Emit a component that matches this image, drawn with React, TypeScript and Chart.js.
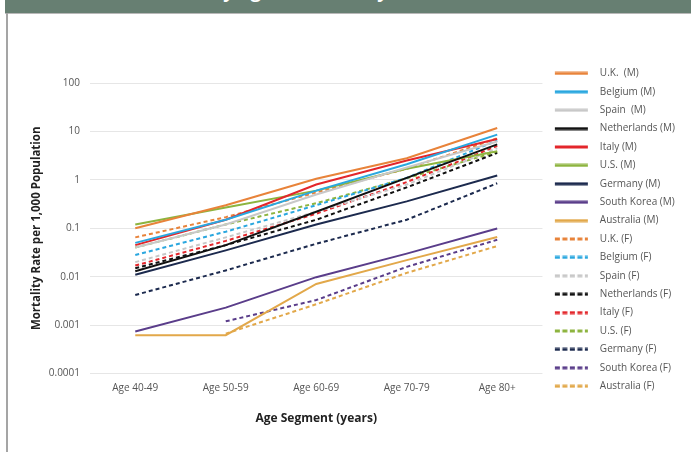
import React, { useEffect, useRef } from 'react';
import { Chart, registerables } from 'chart.js';

Chart.register(...registerables);

const FONT = "'Open Sans', 'DejaVu Sans', sans-serif";

const categories = ['Age 40-49', 'Age 50-59', 'Age 60-69', 'Age 70-79', 'Age 80+'];

// Male series
const ukM = [0.1, 0.3, 1.05, 2.8, 11.8];
const belgiumM = [0.05, 0.15, 0.6, 2.1, 8.6];
const spainM = [0.04, 0.12, 0.5, 1.8, 6.2];
const netherlandsM = [0.013, 0.045, 0.22, 1.1, 5.4];
const italyM = [0.045, 0.15, 0.8, 2.5, 7.0];
const usM = [0.12, 0.27, 0.6, 1.7, 3.9];
const germanyM = [0.011, 0.035, 0.12, 0.36, 1.23];
const southKoreaM = [0.00074, 0.0023, 0.0098, 0.03, 0.099];
const australiaM = [0.00062, 0.00062, 0.0071, 0.022, 0.066];

// Female series
const ukF = [0.065, 0.17, 0.55, 1.7, 7.2];
const belgiumF = [0.028, 0.085, 0.3, 1.1, 6.5];
const spainF = [0.02, 0.065, 0.22, 0.8, 4.5];
const netherlandsF = [0.015, 0.045, 0.15, 0.7, 3.6];
const italyF = [0.017, 0.055, 0.2, 0.9, 5.0];
const usF = [0.04, 0.12, 0.33, 1.08, 3.8];
const germanyF = [0.0042, 0.0135, 0.048, 0.15, 0.85];
const southKoreaF = [null, 0.0012, 0.0033, 0.016, 0.058];
const australiaF = [null, 0.00067, 0.0027, 0.012, 0.043];

const yTickValues = [0.0001, 0.001, 0.01, 0.1, 1, 10, 100];
const yTickLabels = ['0.0001', '0.001', '0.01', '0.1', '1', '10', '100'];

const seriesLabels = [
  'U.K.  (M)', 'Belgium (M)', 'Spain  (M)', 'Netherlands (M)', 'Italy (M)', 'U.S. (M)',
  'Germany (M)', 'South Korea (M)', 'Australia (M)',
  'U.K. (F)', 'Belgium (F)', 'Spain (F)', 'Netherlands (F)', 'Italy (F)', 'U.S. (F)',
  'Germany (F)', 'South Korea (F)', 'Australia (F)',
];
const seriesValues = [
  ukM, belgiumM, spainM, netherlandsM, italyM, usM, germanyM, southKoreaM, australiaM,
  ukF, belgiumF, spainF, netherlandsF, italyF, usF, germanyF, southKoreaF, australiaF,
];
const countryColors = ['#E8833A', '#2AA7DF', '#C8C8C8', '#111111', '#E3262B', '#8DB43F', '#1C2A4E', '#5A3D8A', '#E2A84A'];

function makeSample(color: string, dashed: boolean) {
  const c = document.createElement('canvas');
  c.width = 44;
  c.height = 4;
  const ctx = c.getContext('2d')!;
  ctx.strokeStyle = color;
  ctx.lineWidth = 3;
  if (dashed) ctx.setLineDash([5, 2.5]);
  ctx.beginPath();
  ctx.moveTo(4, 2);
  ctx.lineTo(37, 2);
  ctx.stroke();
  return c;
}

export default function App() {
  const ref = useRef<HTMLCanvasElement>(null);

  useEffect(() => {
    if (!ref.current) return;
    Chart.defaults.font.family = FONT;
    const datasets = seriesValues.map((vals, i) => {
      const color = countryColors[i % 9];
      const dashed = i >= 9;
      return {
        label: seriesLabels[i],
        data: vals,
        borderColor: color,
        backgroundColor: color,
        borderWidth: 2,
        borderDash: dashed ? [4, 3] : [],
        pointRadius: 0,
        tension: 0,
        fill: false,
        spanGaps: false,
      };
    });

    const chart = new Chart(ref.current, {
      type: 'line',
      data: { labels: categories, datasets },
      options: {
        responsive: false,
        animation: false,
        devicePixelRatio: 1,
        layout: { padding: { top: 60, left: 27, right: 6, bottom: 20 } },
        plugins: {
          title: { display: true, text: '', fullSize: false, padding: 0, font: { size: 10, lineHeight: '23px' } },
          tooltip: { enabled: false },
          legend: {
            position: 'right',
            align: 'start',
            labels: {
              usePointStyle: true,
              pointStyleWidth: 44,
              padding: 8.4,
              color: '#555',
              font: { size: 10, family: FONT },
              generateLabels: (ch: any) =>
                ch.data.datasets.map((ds: any, i: number) => ({
                  text: ds.label,
                  pointStyle: makeSample(countryColors[i % 9], i >= 9),
                  fillStyle: ds.borderColor,
                  strokeStyle: ds.borderColor,
                  lineWidth: 0,
                  hidden: false,
                  datasetIndex: i,
                  fontColor: '#555',
                })),
            },
          },
        },
        scales: {
          x: {
            type: 'category',
            offset: true,
            grid: { display: false, drawTicks: false },
            border: { display: false },
            ticks: { color: '#555', font: { size: 10 }, padding: 9, maxRotation: 0 },
            title: {
              display: true,
              text: 'Age Segment (years)',
              color: '#222',
              font: { size: 12, weight: 'bold' },
              padding: { top: 8, bottom: 6 },
            },
          },
          y: {
            type: 'logarithmic',
            min: 0.0001,
            max: 100,
            afterBuildTicks: (axis: any) => {
              axis.ticks = yTickValues.map((v) => ({ value: v }));
            },
            ticks: {
              color: '#555',
              font: { size: 10 },
              padding: 10,
              callback: (value: any) => {
                const idx = yTickValues.findIndex((v) => Math.abs(v - Number(value)) < v * 1e-6);
                return idx >= 0 ? yTickLabels[idx] : '';
              },
            },
            grid: { color: '#e6e6e6', drawTicks: false },
            border: { display: false },
            title: {
              display: true,
              text: 'Mortality Rate per 1,000 Population',
              color: '#222',
              font: { size: 11.5, weight: 'bold' },
              padding: { top: 3, bottom: -5 },
            },
          },
        },
      } as any,
    });
    return () => chart.destroy();
  }, []);

  return (
    <div style={{ position: 'fixed', left: 0, top: 0, width: 691, height: 452, background: '#fff', overflow: 'hidden' }}>
      <canvas ref={ref} width={691} height={452} style={{ position: 'absolute', left: 0, top: 0, width: 691, height: 452 }} />
      <div style={{ position: 'absolute', left: 5, top: 0, width: 686, height: 13, background: '#677f72', overflow: 'hidden' }}>
        <span style={{ position: 'absolute', left: 51, top: -18, whiteSpace: 'nowrap', color: '#fff', fontFamily: FONT, fontWeight: 700, fontSize: 18, lineHeight: '18px' }}>
          COVID-19 Deaths by Age and Country
        </span>
      </div>
      <div style={{ position: 'absolute', left: 5, top: 13, width: 686, height: 1, background: '#b8b8b8' }} />
      <div style={{ position: 'absolute', left: 6, top: 13, width: 2, height: 439, background: '#a5a5a5' }} />
    </div>
  );
}
